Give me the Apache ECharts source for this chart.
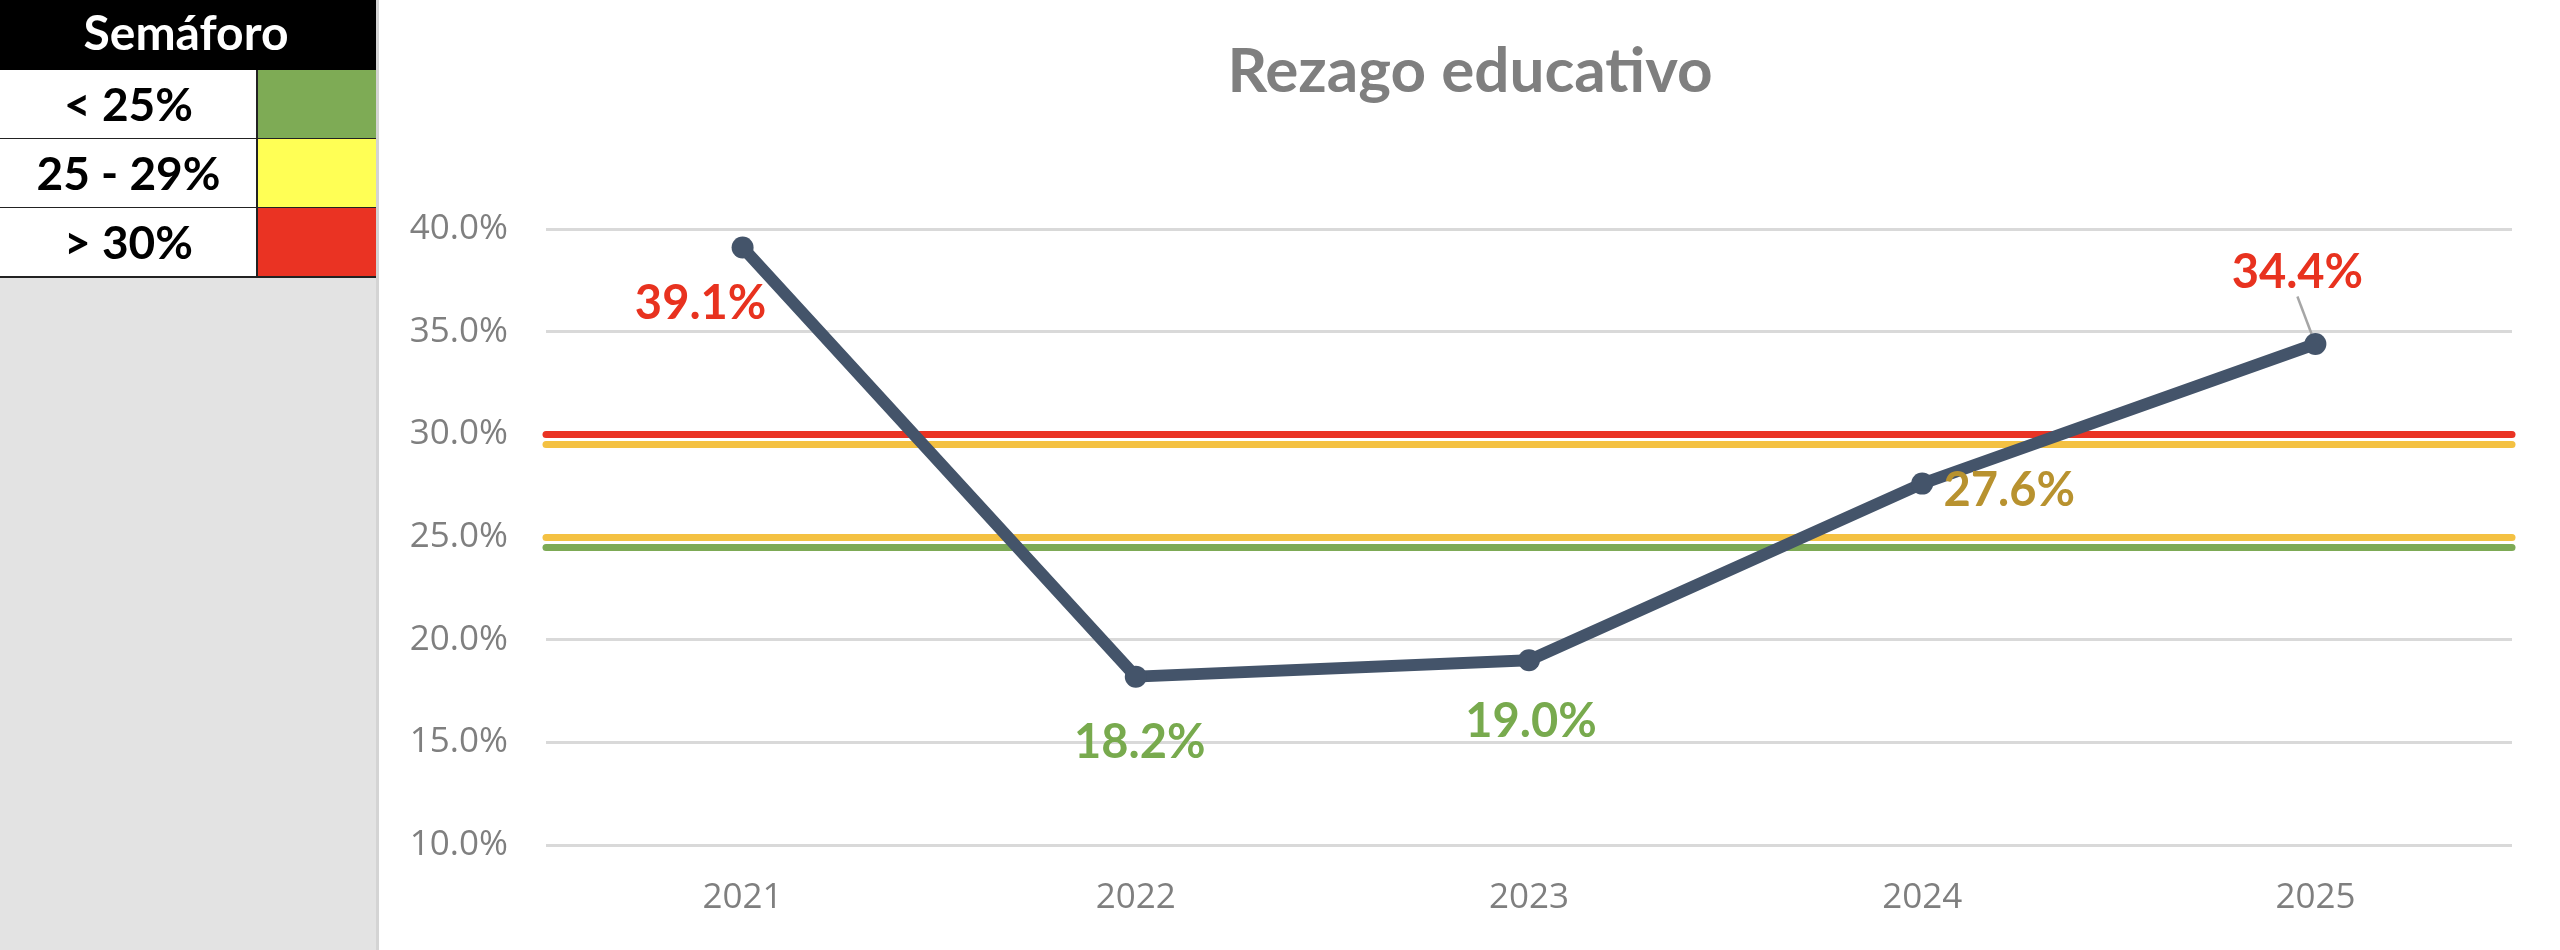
<!DOCTYPE html>
<html>
<head>
<meta charset="utf-8">
<script src="https://cdn.jsdelivr.net/npm/echarts@6/dist/echarts.min.js"></script>
<style>
html,body{margin:0;padding:0;background:#fff;}
#chart{width:2560px;height:950px;}
</style>
</head>
<body>
<div id="chart"></div>
<script>
// ---- data ----
const chartTitle = 'Rezago educativo';
const years = ['2021', '2022', '2023', '2024', '2025'];
const rezago = [39.1, 18.2, 19.0, 27.6, 34.4];
const yTicks = { min: 10, max: 40, step: 5 };
const thresholds = [30, 29.5, 25, 24.5];
const legendTitle = 'Semáforo';
const legendLabels = ['< 25%', '25 - 29%', '> 30%'];

// ---- styles ----
const thresholdColors = ['#EA3323', '#F4C142', '#F4C142', '#7DAA55'];
const legendColors = ['#7EAB55', '#FFFF55', '#EA3323'];
const labelOffsets = [[-42, 56], [4, 66], [2, 62], [87, 7], [-18, -71]];
const leaderIndex = 4;

function labelColor(v) {
  if (v < 25) return '#78AA4E';
  if (v < 30) return '#B8922F';
  return '#E8321F';
}

const chart = echarts.init(document.getElementById('chart'), null, { renderer: 'canvas' });

// left panel (semaphore table)
const panelW = 376, colSplit = 257, headH = 70, rowH = 69;
const graphics = [
  { type: 'rect', shape: { x: 0, y: 0, width: panelW, height: 950 }, style: { fill: '#E3E3E3' }, silent: true },
  { type: 'rect', shape: { x: panelW, y: 0, width: 3, height: 950 }, style: { fill: '#D4D4D4' }, silent: true },
  { type: 'rect', shape: { x: 0, y: 0, width: panelW, height: headH }, style: { fill: '#000' }, silent: true },
  { type: 'text', x: 186, y: headH / 2, silent: true,
    style: { text: legendTitle, fill: '#fff', font: 'bold 48px Lato', align: 'center', verticalAlign: 'middle' } }
];
legendLabels.forEach((lab, i) => {
  const y0 = headH + i * rowH;
  graphics.push({ type: 'rect', shape: { x: 0, y: y0, width: colSplit, height: rowH }, style: { fill: '#fff' }, silent: true });
  graphics.push({ type: 'rect', shape: { x: colSplit, y: y0, width: panelW - colSplit, height: rowH }, style: { fill: legendColors[i] }, silent: true });
  graphics.push({ type: 'text', x: colSplit / 2, y: y0 + rowH / 2 + 2, silent: true,
    style: { text: lab, fill: '#000', font: 'bold 46px Lato', align: 'center', verticalAlign: 'middle' } });
  graphics.push({ type: 'rect', shape: { x: 0, y: y0 + rowH - 1, width: panelW, height: 2 }, style: { fill: '#222' }, silent: true });
});
graphics.push({ type: 'rect', shape: { x: colSplit - 1, y: headH, width: 2, height: rowH * 3 }, style: { fill: '#222' }, silent: true });
graphics.push({ type: 'text', x: 1470, y: 72, silent: true,
  style: { text: chartTitle, fill: '#7F7F7F', font: 'bold 62px Lato', align: 'center', verticalAlign: 'middle' } });

const option = {
  animation: false,
  backgroundColor: '#fff',
  graphic: graphics,
  grid: { left: 546, right: 48, top: 229, bottom: 105 },
  xAxis: {
    type: 'category',
    data: years,
    boundaryGap: true,
    axisLine: { show: false },
    axisTick: { show: false },
    axisLabel: { color: '#7F7F7F', fontFamily: 'Open Sans', fontSize: 35, margin: 36 }
  },
  yAxis: {
    type: 'value',
    min: yTicks.min, max: yTicks.max, interval: yTicks.step,
    axisLine: { show: false },
    axisTick: { show: false },
    axisLabel: { color: '#7F7F7F', fontFamily: 'Open Sans', fontSize: 35, margin: 38,
      formatter: v => v.toFixed(1) + '%' },
    splitLine: { lineStyle: { color: '#D9D9D9', width: 3 } }
  },
  series: [
    {
      name: 'umbrales',
      type: 'line',
      data: [],
      z: 1,
      silent: true,
      markLine: {
        silent: true,
        symbol: 'none',
        label: { show: false },
        data: thresholds.map((t, i) => ({ yAxis: t, lineStyle: { color: thresholdColors[i], width: 7, type: 'solid', cap: 'round' } }))
      }
    },
    {
      name: chartTitle,
      type: 'line',
      z: 5,
      data: rezago.map((v, i) => ({
        value: v,
        label: { color: labelColor(v) },
        labelLine: { show: i === leaderIndex }
      })),
      symbol: 'circle',
      symbolSize: 22,
      lineStyle: { color: '#44546A', width: 12 },
      itemStyle: { color: '#44546A' },
      label: {
        show: true,
        position: 'inside',
        fontFamily: 'Lato',
        fontWeight: 'bold',
        fontSize: 47,
        formatter: p => p.value.toFixed(1) + '%'
      },
      labelLine: { show: false, lineStyle: { color: '#A6A6A6', width: 2.5 } },
      labelLayout: p => ({ dx: labelOffsets[p.dataIndex][0], dy: labelOffsets[p.dataIndex][1] })
    }
  ]
};
chart.setOption(option);
</script>
</body>
</html>
